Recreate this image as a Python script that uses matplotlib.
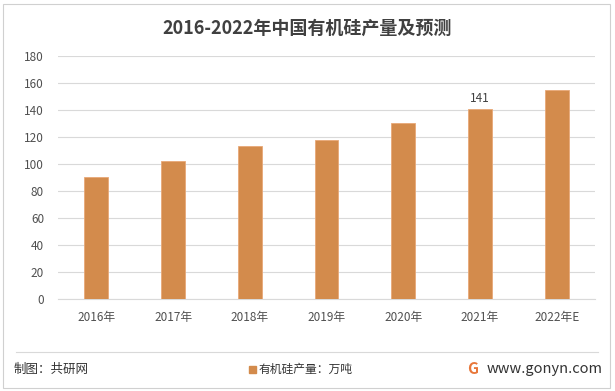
import matplotlib.pyplot as plt
from matplotlib.patches import Rectangle

plt.rcParams['font.family'] = ['Noto Sans CJK SC', 'DejaVu Sans']

# data
years = ['2016年', '2017年', '2018年', '2019年', '2020年', '2021年', '2022年E']
output = [90, 102, 113, 118, 130, 141, 155]
y_ticks = [0, 20, 40, 60, 80, 100, 120, 140, 160, 180]

bar_color = '#D38B4C'
text_color = '#404040'

fig = plt.figure(figsize=(6.15, 3.91), dpi=100)
ax = fig.add_axes([58 / 615, 1 - 299 / 391, (595 - 58) / 615, (299 - 56) / 391])

x = range(len(years))
ax.bar(x, output, width=0.31, color=bar_color, edgecolor='#E8A877', linewidth=0.6, zorder=3)

# only the 2021 value is labelled in the original
ax.text(5, output[5] + 3, str(output[5]), ha='center', va='bottom', fontsize=8.5, color=text_color)

ax.set_ylim(0, 180)
ax.set_xlim(-0.5, len(years) - 0.5)
ax.set_yticks(y_ticks)
ax.set_xticks(list(x))
ax.set_xticklabels(years)
ax.tick_params(axis='both', length=0, labelsize=8.5, colors='#505050')
ax.tick_params(axis='x', pad=9)
ax.tick_params(axis='y', pad=10)
ax.grid(axis='y', color='#D9D9D9', linewidth=0.8, zorder=0)
for s in ['top', 'right', 'left']:
    ax.spines[s].set_visible(False)
ax.spines['bottom'].set_color('#D9D9D9')

fig.text(0.5, 1 - 28 / 391, '2016-2022年中国有机硅产量及预测', ha='center', va='center',
         fontsize=13, fontweight='bold', color=text_color)

# frame and footer
fig.patches.append(Rectangle((3 / 615, 3 / 391), 607 / 615, 384 / 391, transform=fig.transFigure,
                             fill=False, edgecolor='#D0D0D0', linewidth=0.8))
fig.add_artist(plt.Line2D([16 / 615, 598 / 615], [1 - 352 / 391] * 2, color='#D9D9D9', linewidth=0.8))

fy = 1 - 369 / 391
fig.text(14 / 615, fy, '制图：共研网', ha='left', va='center', fontsize=9, color='#333333')
fig.patches.append(Rectangle((249 / 615, fy - 3.5 / 391), 7 / 615, 7 / 391, transform=fig.transFigure,
                             color=bar_color))
fig.text(259 / 615, fy, '有机硅产量：万吨', ha='left', va='center', fontsize=8.5, color='#333333')
fig.text(467 / 615, fy, 'G', ha='left', va='center', fontsize=11, fontweight='bold', color='#E8773A')
fig.text(603 / 615, fy, 'www.gonyn.com', ha='right', va='center', fontsize=10.5, color='#333333')

fig.savefig('out.png', dpi=100)
